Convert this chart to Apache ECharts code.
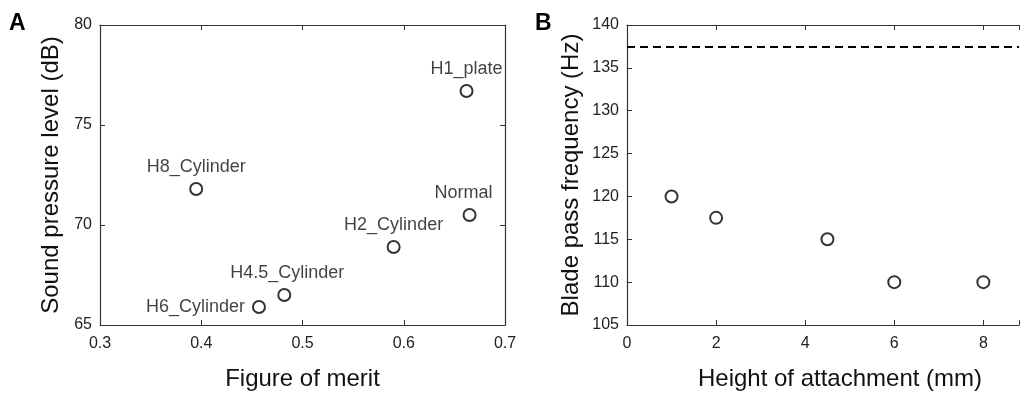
<!DOCTYPE html>
<html><head><meta charset="utf-8">
<script src="https://cdn.jsdelivr.net/npm/echarts@6/dist/echarts.min.js"></script>
<style>html,body{margin:0;padding:0;background:#fff}#c{width:1022px;height:396px}</style>
</head><body><div id="c"></div>
<script>
// Panel A data
const namesA = ['H1_plate','H8_Cylinder','Normal','H2_Cylinder','H4.5_Cylinder','H6_Cylinder'];
const meritA = [0.662, 0.395, 0.665, 0.590, 0.482, 0.457];
const splA   = [76.7, 71.8, 70.5, 68.9, 66.5, 65.9];
// Panel B data
const heightB = [1, 2, 4.5, 6, 8];
const bpfB    = [120, 117.5, 115, 110, 110];
const refLineB = 137.5;
const xMaxB = 8.8; // panel B is cropped at the right edge of the figure

const FONT = 'Liberation Sans, Arial, sans-serif';
const lineC = '#333';
const labelPos = {
  H6_Cylinder:{position:'left', distance:7},
  Normal:{position:'top', offset:[-6,0]},
  'H4.5_Cylinder':{position:'top', offset:[3,0]}
};

const chart = echarts.init(document.getElementById('c'));
const axisBase = (extra) => Object.assign({
  type:'value',
  axisLine:{show:true, onZero:false, lineStyle:{color:lineC, width:1.2}},
  axisTick:{show:true, inside:true, length:5, lineStyle:{color:lineC}},
  splitLine:{show:false},
  axisLabel:{color:'#222', fontFamily:FONT, fontSize:16},
}, extra);

chart.setOption({
  animation:false,
  textStyle:{fontFamily:FONT},
  grid:[
    {left:100, top:25, width:405, height:304},
    {left:627, top:25, width:396, height:304}
  ],
  xAxis:[
    axisBase({gridIndex:0, min:0.3, max:0.7, interval:0.1, position:'bottom',
      axisLabel:{color:'#222', fontFamily:FONT, fontSize:16, margin:11, formatter:v=>v.toFixed(1)},
      name:'Figure of merit', nameLocation:'middle', nameGap:42,
      nameTextStyle:{color:'#111', fontFamily:FONT, fontSize:24}}),
    axisBase({gridIndex:0, min:0.3, max:0.7, interval:0.1, position:'top', axisLabel:{show:false}}),
    axisBase({gridIndex:1, min:0, max:xMaxB, interval:2, position:'bottom',
      axisLabel:{color:'#222', fontFamily:FONT, fontSize:16, margin:11,
        formatter:v=>(Math.abs(v % 2) < 1e-9 ? String(v) : '')},
      name:'Height of attachment (mm)', nameLocation:'middle', nameGap:42,
      nameTextStyle:{color:'#111', fontFamily:FONT, fontSize:24, padding:[0,0,0,34]}}),
    axisBase({gridIndex:1, min:0, max:xMaxB, interval:2, position:'top', axisLabel:{show:false}})
  ],
  yAxis:[
    axisBase({gridIndex:0, min:65, max:80, interval:5, position:'left',
      axisLabel:{color:'#222', fontFamily:FONT, fontSize:16, margin:8},
      name:'Sound pressure level (dB)', nameLocation:'middle', nameGap:37,
      nameTextStyle:{color:'#111', fontFamily:FONT, fontSize:24}}),
    axisBase({gridIndex:0, min:65, max:80, interval:5, position:'right', axisLabel:{show:false}}),
    axisBase({gridIndex:1, min:105, max:140, interval:5, position:'left',
      axisLabel:{color:'#222', fontFamily:FONT, fontSize:16, margin:8},
      name:'Blade pass frequency (Hz)', nameLocation:'middle', nameGap:44,
      nameTextStyle:{color:'#111', fontFamily:FONT, fontSize:24}})
  ],
  series:[
    {type:'scatter', xAxisIndex:0, yAxisIndex:0, symbol:'circle', symbolSize:12,
     itemStyle:{color:'rgba(0,0,0,0)', borderColor:'#000', borderWidth:2},
     label:{show:true, position:'top', distance:6, color:'#111', fontFamily:FONT, fontSize:18, formatter:p=>p.name},
     data:namesA.map((n,i)=>Object.assign({name:n, value:[meritA[i], splA[i]]}, labelPos[n]?{label:labelPos[n]}:{}))},
    {type:'scatter', xAxisIndex:2, yAxisIndex:2, symbol:'circle', symbolSize:12,
     itemStyle:{color:'rgba(0,0,0,0)', borderColor:'#000', borderWidth:2},
     data:heightB.map((h,i)=>[h, bpfB[i]]),
     markLine:{silent:true, symbol:'none', label:{show:false},
       lineStyle:{color:'#000', type:[8,5], width:2},
       data:[{yAxis:refLineB}]}}
  ],
  graphic:[
    {type:'text', left:9, top:12, style:{text:'A', font:'bold 23px '+FONT, fill:'#000'}},
    {type:'text', left:535, top:12, style:{text:'B', font:'bold 23px '+FONT, fill:'#000'}}
  ]
});
</script></body></html>
